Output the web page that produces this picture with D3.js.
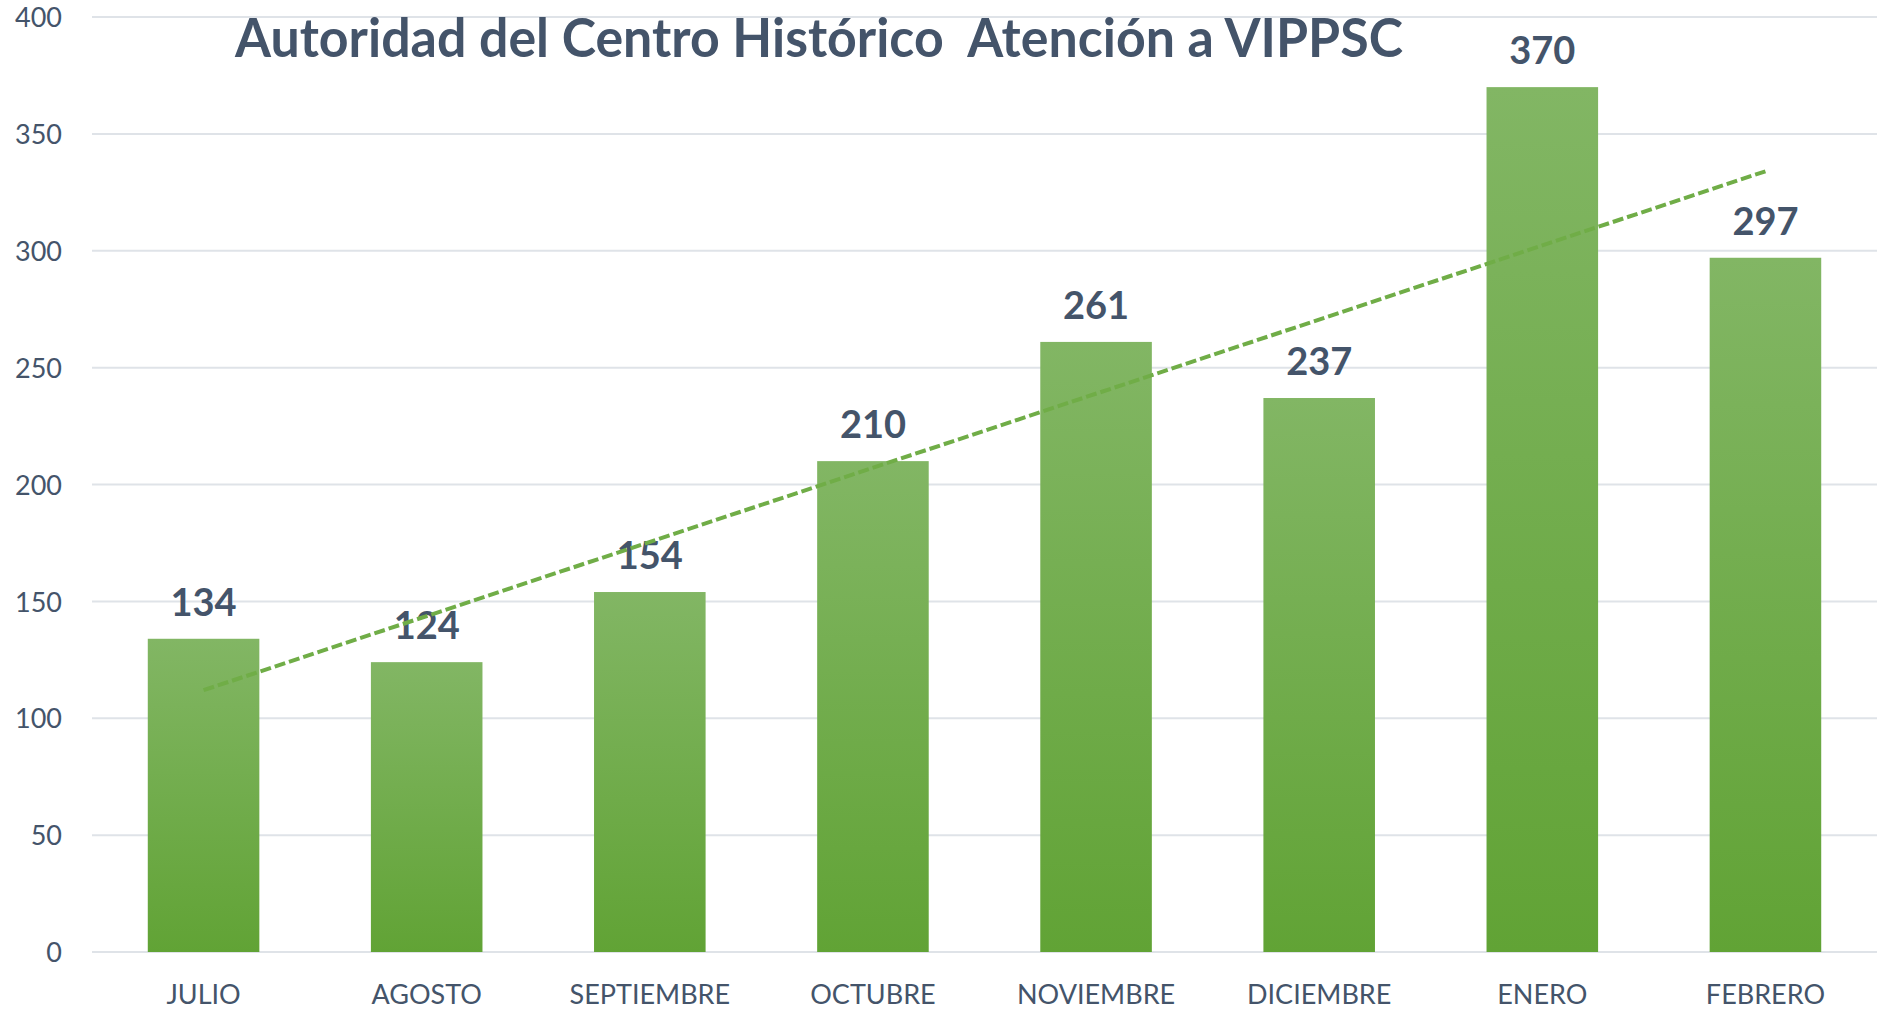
<!DOCTYPE html>
<html>
<head>
<meta charset="utf-8">
<script src="https://cdn.jsdelivr.net/npm/d3@7"></script>
<style>
  body { margin: 0; background: #fff; }
  text { font-family: Lato, "Open Sans", sans-serif; fill: #44546A; }
</style>
</head>
<body>
<script>
const titleText = 'Autoridad del Centro Histórico  Atención a VIPPSC';
const months = ['JULIO', 'AGOSTO', 'SEPTIEMBRE', 'OCTUBRE', 'NOVIEMBRE', 'DICIEMBRE', 'ENERO', 'FEBRERO'];
const visits = [134, 124, 154, 210, 261, 237, 370, 297];
const yTicks = [0, 50, 100, 150, 200, 250, 300, 350, 400];
// linear trendline, start and end
const trendEnds = [112, 334];

function makeChart(svg) {
    const W = +svg.attr('width');

    const x = d3.scaleBand().domain(months).range([92, W])
        .paddingInner(0.5).paddingOuter(0.25);
    const y = d3.scaleLinear().domain([0, 400]).range([952, 17]);

    const grad = svg.append('defs').append('linearGradient')
        .attr('id', 'barFill')
        .attrs({ x1: 0, y1: 0, x2: 0, y2: 1 });
    grad.append('stop').attrs({ offset: '0%', 'stop-color': '#82B664' });
    grad.append('stop').attrs({ offset: '100%', 'stop-color': '#61A335' });

    // gridlines
    svg.append('g')
        .selectAll('line')
        .data(yTicks)
        .enter()
        .append('line')
        .attrs({
            x1: 92, x2: W,
            y1: d => y(d), y2: d => y(d),
            stroke: '#DFE3E8',
            'stroke-width': 2
        });

    // y tick labels
    const yAxis = d3.axisLeft(y).tickValues(yTicks).tickSize(0).tickPadding(0);
    const ya = svg.append('g').attr('transform', 'translate(62,0)').call(yAxis);
    ya.select('.domain').remove();
    ya.selectAll('text')
        .attr('dy', '0.36em')
        .style('font-size', '27px')
        .style('fill', '#44546A');

    // category labels
    const xAxis = d3.axisBottom(x).tickSize(0).tickPadding(0);
    const xa = svg.append('g').attr('transform', 'translate(0,1004)').call(xAxis);
    xa.select('.domain').remove();
    xa.selectAll('text')
        .attr('dy', 0)
        .attr('y', 0)
        .style('font-size', '27px')
        .style('fill', '#44546A');

    // bars
    svg.append('g')
        .selectAll('rect')
        .data(visits)
        .enter()
        .append('rect')
        .attrs({
            x: (d, i) => x(months[i]),
            y: d => y(d),
            width: x.bandwidth(),
            height: d => y(0) - y(d),
            fill: 'url(#barFill)'
        });

    // value labels
    svg.append('g')
        .selectAll('text')
        .data(visits)
        .enter()
        .append('text')
        .attrs({
            x: (d, i) => x(months[i]) + x.bandwidth() / 2,
            y: d => y(d) - 23,
            'text-anchor': 'middle'
        })
        .style('font-size', '38px')
        .style('font-weight', 'bold')
        .text(d => d);

    // trendline
    const half = x.bandwidth() / 2;
    const ends = [months[0], months[months.length - 1]];
    svg.append('path')
        .datum(trendEnds)
        .attr('d', d3.line()
            .x((d, i) => x(ends[i]) + half)
            .y(d => y(d)))
        .attrs({
            fill: 'none',
            stroke: '#70AD47',
            'stroke-width': 4,
            'stroke-dasharray': '11,4'
        });

    // title
    svg.append('text')
        .attrs({
            x: 235,
            y: 57,
            textLength: 1168,
            lengthAdjust: 'spacingAndGlyphs'
        })
        .style('font-size', '53px')
        .style('font-weight', 'bold')
        .style('white-space', 'pre')
        .text(titleText);
}

function main() {
    const svg = d3.select('body')
        .append('svg')
        .attr('width', 1877)
        .attr('height', 1011);
    makeChart(svg);
}

// d3 v7 has no .attrs helper by default
d3.selection.prototype.attrs = function(o) {
    for (const k in o) this.attr(k, o[k]);
    return this;
};

main();
</script>
</body>
</html>
